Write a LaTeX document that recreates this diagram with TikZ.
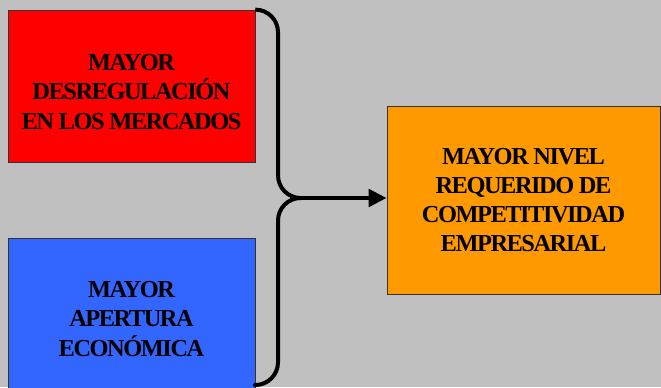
\documentclass[tikz,border=0pt]{standalone}
\usepackage{fontspec}
\setmainfont{Liberation Serif}[LetterSpace=-6]
\usetikzlibrary{arrows.meta}
\definecolor{bg}{HTML}{C0C0C0}
\definecolor{boxred}{HTML}{FF0000}
\definecolor{boxblue}{HTML}{3366FF}
\definecolor{boxorange}{HTML}{FF9900}
\tikzset{
  box/.style={draw=black!80, line width=0.6pt, inner sep=0pt, align=center,
    font=\bfseries\fontsize{18.3}{21.8}\selectfont},
  label text/.style={inner sep=0pt, align=center,
    font=\bfseries\fontsize{18.3}{21.8}\selectfont},
  bracket/.style={line width=3pt, rounded corners=17pt, line cap=round},
  flow/.style={line width=3pt, -{Triangle[length=13.5pt, width=13pt]}}
}
\begin{document}
\begin{tikzpicture}[x=0.75pt, y=-0.75pt]
\useasboundingbox (0,0) rectangle (661,387);
\fill[bg] (0,0) rectangle (661,387);
\clip (0,0) rectangle (661,387);
\node[box, fill=boxred, minimum width=185.25pt, minimum height=114pt] (red) at (131.5,86) {};
\node[label text] (redtext) at (131.5,92) {MAYOR\\DESREGULACIÓN\\EN LOS MERCADOS};
\node[box, fill=boxblue, minimum width=185.25pt, minimum height=121.5pt] (blue) at (131.5,319)
  {MAYOR\\APERTURA\\ECONÓMICA};
\node[box, fill=boxorange, minimum width=204.75pt, minimum height=141pt] (orange) at (523.5,200)
  {MAYOR NIVEL\\REQUERIDO DE\\COMPETITIVIDAD\\EMPRESARIAL};
\coordinate (tip) at (278,198);
\coordinate (bend) at (300,198);
\coordinate (bot) at (255,385);
\draw[bracket] (red.north east) -| (tip) -- (bend);
\draw[bracket] (bend) -- (tip) |- (bot);
\draw[flow] (290,198) -- (tip -| orange.west);
\end{tikzpicture}
\end{document}
